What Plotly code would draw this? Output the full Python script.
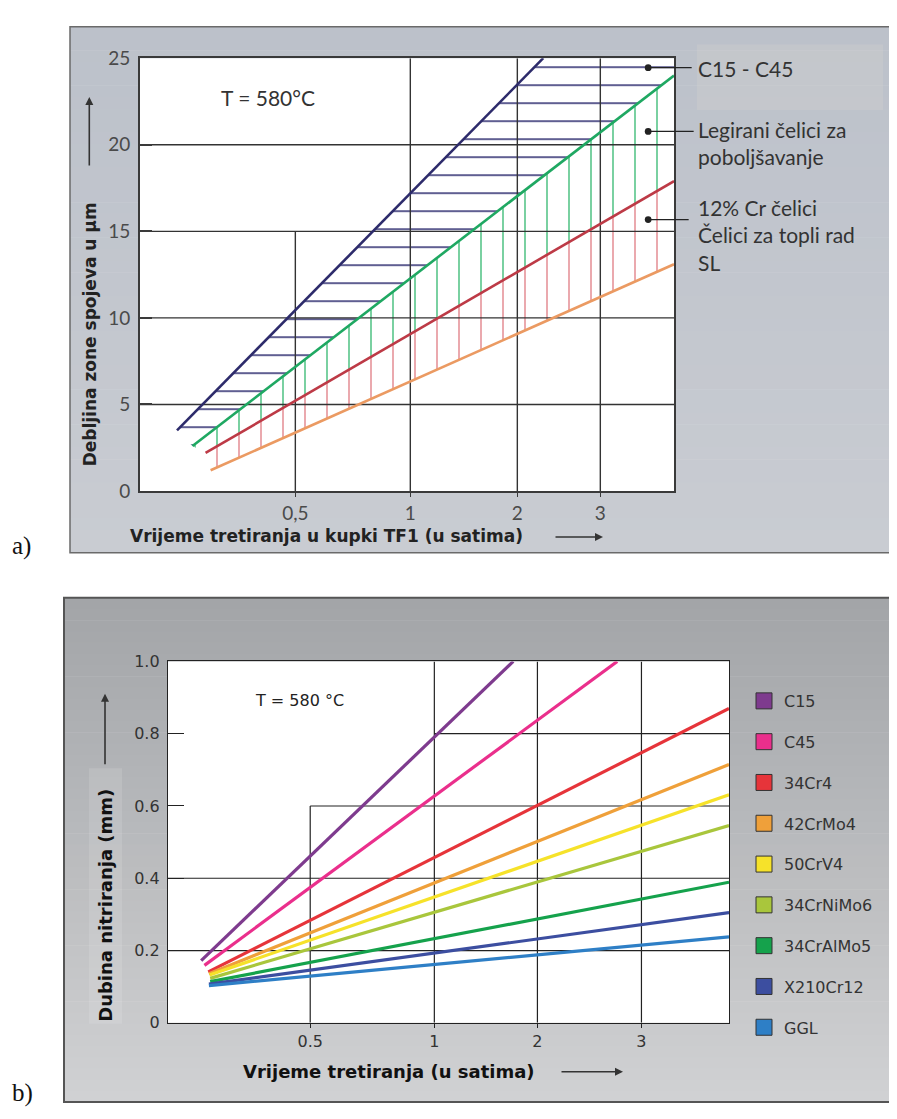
import numpy as np
import plotly.graph_objects as go

# page is 897x1119; the browser's default 8px body margin offsets the figure
PAGE_OFF = 8
W, H = 897 - PAGE_OFF, 1119 - PAGE_OFF

# ---------------- panel a) : compound-layer thickness ----------------
A_TICK_HOURS = [0.5, 1, 2, 3]
A_TICK_LABELS = ["0,5", "1", "2", "3"]
A_TICK_POS = [0.2903, 0.5056, 0.7060, 0.8614]     # non-uniform time scale of the original
A_TIME_RANGE = [0.196, 4.30]
A_DEPTH_RANGE = [0, 25]
A_DEPTH_TICKS = [0, 5, 10, 15, 20, 25]

A_BOUNDARY = ["C15 - C45 gornja", "C15 - C45 donja / legirani", "legirani donja / 12% Cr", "12% Cr donja"]
A_T_START = [0.245, 0.269, 0.291, 0.300]
A_D_START = [3.5, 2.6, 2.2, 1.2]
A_T_END = [2.27, 4.30, 4.30, 4.30]
A_D_END = [25.0, 24.0, 17.9, 13.1]
A_COLORS = ["#2d2b6b", "#1fa862", "#bd3a46", "#eb9a62"]
A_HATCH_COLORS = ["#2f2d70", "#34b870", "#dd7078"]

A_LABELS = ["C15 - C45", "Legirani čelici za<br>poboljšavanje", "12% Cr čelici<br>Čelici za topli rad<br>SL"]
A_LABEL_T = 3.79
A_LABEL_D = [24.45, 20.77, 15.68]

# ---------------- panel b) : nitriding depth ----------------
B_TICK_HOURS = [0.5, 1, 2, 3]
B_TICK_LABELS = ["0.5", "1", "2", "3"]
B_TICK_POS = [0.2531, 0.4742, 0.6578, 0.8431]
B_TIME_RANGE = [0.226, 4.22]
B_DEPTH_RANGE = [0, 1.0]
B_DEPTH_TICKS = [0, 0.2, 0.4, 0.6, 0.8, 1.0]
B_DEPTH_LABELS = ["0", "0.2", "0.4", "0.6", "0.8", "1.0"]

B_STEELS = ["C15", "C45", "34Cr4", "42CrMo4", "50CrV4", "34CrNiMo6", "34CrAlMo5", "X210Cr12", "GGL"]
B_T_START = [0.272, 0.277, 0.283, 0.284, 0.285, 0.286, 0.286, 0.284, 0.284]
B_D_START = [0.172, 0.159, 0.141, 0.136, 0.132, 0.123, 0.114, 0.107, 0.103]
B_T_END = [1.70, 2.73, 4.22, 4.22, 4.22, 4.22, 4.22, 4.22, 4.22]
B_D_END = [1.0, 1.0, 0.870, 0.715, 0.631, 0.546, 0.389, 0.305, 0.238]
B_COLORS = ["#7e3b8e", "#ea2f8c", "#e6343a", "#efa03a", "#f6e22a", "#a9c63c", "#15a24c", "#3c4ea0", "#2e7fc6"]

# grid of the original (partly drawn lines)
A_GRID_H = [5, 10, 15, 20]
A_GRID_V_TOP = [15, 25, 25, 25]
B_GRID_H = [0.2, 0.4, 0.6, 0.8]
B_GRID_H_FROM = [B_TIME_RANGE[0], B_TIME_RANGE[0], 0.5, 1]
B_GRID_V_TOP = [0.6, 1.0, 1.0, 1.0]


def to_u(t, hours, pos):
    lt = np.log10(np.atleast_1d(np.asarray(t, dtype=float)))
    lh = np.log10(np.asarray(hours, dtype=float))
    p = np.asarray(pos, dtype=float)
    u = np.interp(lt, lh, p)
    s0 = (p[1] - p[0]) / (lh[1] - lh[0])
    s1 = (p[-1] - p[-2]) / (lh[-1] - lh[-2])
    u = np.where(lt < lh[0], p[0] + (lt - lh[0]) * s0, u)
    u = np.where(lt > lh[-1], p[-1] + (lt - lh[-1]) * s1, u)
    return u


def ua(t):
    return to_u(t, A_TICK_HOURS, A_TICK_POS)


def ub(t):
    return to_u(t, B_TICK_HOURS, B_TICK_POS)


def px(x):
    return (x - PAGE_OFF) / W


def py(y):
    return 1 - (y - PAGE_OFF) / H


def segments(pairs_x, pairs_y):
    X, Y = [], []
    for (xa, xb), (ya, yb) in zip(pairs_x, pairs_y):
        X += [float(xa), float(xb), None]
        Y += [float(ya), float(yb), None]
    return X, Y


fig = go.Figure()

# ---- panel a) hatched bands ----
navy, green, red, orange = range(4)
poly_h_t = [A_T_START[navy], A_T_END[navy], A_TIME_RANGE[1], A_T_END[green], A_T_START[green]]
poly_h_d = [A_D_START[navy], A_DEPTH_RANGE[1], A_DEPTH_RANGE[1], A_D_END[green], A_D_START[green]]
poly_g_t = [A_T_START[green], A_T_END[green], A_T_END[red], A_T_START[red]]
poly_g_d = [A_D_START[green], A_D_END[green], A_D_END[red], A_D_START[red]]
poly_r_t = [A_T_START[red], A_T_END[red], A_T_END[orange], A_T_START[orange]]
poly_r_d = [A_D_START[red], A_D_END[red], A_D_END[orange], A_D_START[orange]]

for (pt, pd, shp, size, sol, col) in [
    (poly_h_t, poly_h_d, "-", 18, 0.085, A_HATCH_COLORS[0]),
    (poly_g_t, poly_g_d, "|", 22, 0.06, A_HATCH_COLORS[1]),
    (poly_r_t, poly_r_d, "|", 22, 0.055, A_HATCH_COLORS[2]),
]:
    fig.add_trace(go.Scatter(
        x=ua(pt), y=pd, mode="none", fill="toself", fillcolor="rgba(0,0,0,0)",
        fillpattern=dict(shape=shp, size=size, solidity=sol, fgcolor=col,
                         bgcolor="rgba(0,0,0,0)", fillmode="replace"),
        xaxis="x", yaxis="y", showlegend=False, hoverinfo="skip"))

# ---- panel a) grid ----
gx, gy = segments([(ua(A_TIME_RANGE[0])[0], ua(A_TIME_RANGE[1])[0])] * len(A_GRID_H),
                  [(d, d) for d in A_GRID_H])
vx, vy = segments([(ua(t)[0], ua(t)[0]) for t in A_TICK_HOURS],
                  [(0, top) for top in A_GRID_V_TOP])
fig.add_trace(go.Scatter(x=gx + vx, y=gy + vy, mode="lines",
                         line=dict(color="#333333", width=1.4),
                         xaxis="x", yaxis="y", showlegend=False, hoverinfo="skip"))

# ---- panel a) boundary lines ----
for i, name in enumerate(A_BOUNDARY):
    fig.add_trace(go.Scatter(
        x=ua([A_T_START[i], A_T_END[i]]), y=[A_D_START[i], A_D_END[i]], mode="lines",
        line=dict(color=A_COLORS[i], width=2.6), name=name,
        xaxis="x", yaxis="y", showlegend=False))

# ---- panel b) grid ----
gx, gy = segments([(ub(t0)[0], ub(B_TIME_RANGE[1])[0]) for t0 in B_GRID_H_FROM],
                  [(d, d) for d in B_GRID_H])
vx, vy = segments([(ub(t)[0], ub(t)[0]) for t in B_TICK_HOURS],
                  [(0, top) for top in B_GRID_V_TOP])
fig.add_trace(go.Scatter(x=gx + vx, y=gy + vy, mode="lines",
                         line=dict(color="#222222", width=1.2),
                         xaxis="x2", yaxis="y2", showlegend=False, hoverinfo="skip"))

# ---- panel b) lines ----
for i, name in enumerate(B_STEELS):
    fig.add_trace(go.Scatter(
        x=ub([B_T_START[i], B_T_END[i]]), y=[B_D_START[i], B_D_END[i]], mode="lines",
        line=dict(color=B_COLORS[i], width=3.2), name=name,
        xaxis="x2", yaxis="y2", showlegend=False))

# legend swatches for panel b)
for i, name in enumerate(B_STEELS):
    fig.add_trace(go.Scatter(
        x=[None], y=[None], mode="markers", name=name, legendgroup=name,
        marker=dict(symbol="square", size=18, color=B_COLORS[i],
                    line=dict(color="#333333", width=1)),
        xaxis="x2", yaxis="y2", showlegend=True))

# ---- background boxes ----
shapes = []


def mix(c1, c2, f):
    a = [int(c1[k:k + 2], 16) for k in (1, 3, 5)]
    b = [int(c2[k:k + 2], 16) for k in (1, 3, 5)]
    return "rgb(%d,%d,%d)" % tuple(round(a[j] + (b[j] - a[j]) * f) for j in range(3))


def gradient_box(x0, x1, y0, y1, ctop, cbot, n=45):
    for i in range(n):
        ya = y0 + (y1 - y0) * i / n
        yb = y0 + (y1 - y0) * (i + 1) / n + 0.6
        shapes.append(dict(type="rect", xref="paper", yref="paper", layer="below",
                           x0=px(x0), x1=px(x1), y0=py(min(yb, y1)), y1=py(ya),
                           fillcolor=mix(ctop, cbot, i / (n - 1)), line=dict(width=0)))


gradient_box(70, 899, 15, 552, "#bcc1ca", "#c9ccd2")
shapes.append(dict(type="rect", xref="paper", yref="paper", layer="below",
                   x0=px(697), x1=px(883), y0=py(100), y1=py(33),
                   fillcolor="rgba(214,212,209,0.28)", line=dict(width=0)))
shapes.append(dict(type="rect", xref="paper", yref="paper", layer="below",
                   x0=px(70), x1=px(902), y0=py(552), y1=py(15),
                   fillcolor="rgba(0,0,0,0)", line=dict(color="#6a6a6a", width=1.5)))

gradient_box(64, 899, 598, 1113, "#a3a5a8", "#d0d1d3")
shapes.append(dict(type="rect", xref="paper", yref="paper", layer="below",
                   x0=px(89), x1=px(122), y0=py(1033), y1=py(772),
                   fillcolor="rgba(255,255,255,0.12)", line=dict(width=0)))
shapes.append(dict(type="rect", xref="paper", yref="paper", layer="below",
                   x0=px(64), x1=px(902), y0=py(1113), y1=py(598),
                   fillcolor="rgba(0,0,0,0)", line=dict(color="#555555", width=2)))

A_XDOM = [px(140), px(674)]
A_YDOM = [py(489), py(47)]
B_XDOM = [px(168), px(729)]
B_YDOM = [py(1032), py(663)]
for xd, yd in [(A_XDOM, A_YDOM), (B_XDOM, B_YDOM)]:
    shapes.append(dict(type="rect", xref="paper", yref="paper", layer="below",
                       x0=xd[0], x1=xd[1], y0=yd[0], y1=yd[1],
                       fillcolor="white", line=dict(width=0)))

# ---- annotations ----
ann = []
CAL = "Lato, Open Sans, sans-serif"
TAH = "DejaVu Sans, sans-serif"
TAHB = "DejaVu Sans, sans-serif"


def text(x, y, s, size, family=CAL, color="#333333", xanchor="center", angle=0, bold=False,
         yanchor="middle", align="center"):
    ann.append(dict(xref="paper", yref="paper", x=px(x), y=py(y), text=("<b>%s</b>" % s) if bold else s,
                    showarrow=False, xanchor=xanchor, yanchor=yanchor, textangle=angle, align=align,
                    font=dict(family=family, size=size, color=color)))


def arrow(x, y, ax, ay, head=2, width=1.6, color="#333333", size=1.0, ref="paper"):
    d = dict(x=x, y=y, ax=ax, ay=ay, axref="pixel", ayref="pixel", text="",
             showarrow=True, arrowhead=head, arrowsize=size, arrowwidth=width,
             arrowcolor=color, standoff=0)
    if ref == "paper":
        d.update(xref="paper", yref="paper", x=px(x), y=py(y))
    else:
        d.update(xref="x", yref="y")
    ann.append(d)


# panel a) texts
text(267.5, 87, "T = 580°C", 21, CAL, "#333333")
text(90, 329, "Debljina zone spojeva u µm", 17, TAHB, "#222222", angle=-90, bold=True)
arrow(89.3, 86.7, 0, 70)
text(326, 535, "Vrijeme tretiranja u kupki TF1 (u satima)", 17, TAHB, "#222222", bold=True)
arrow(603, 536, -49, 0)
text(10, 545, "a)", 25, "Liberation Serif, serif", "#111111", xanchor="left")

label_y = [58, 134, 227.5]
offs = [45, 47, 42]
for i, lab in enumerate(A_LABELS):
    text(696, label_y[i], lab, 21, CAL, "#333333", xanchor="left", align="left")
    arrow(float(ua(A_LABEL_T)[0]), A_LABEL_D[i], offs[i], 0, head=6, width=1.3, size=1.3,
          color="#222222", ref="data")

# panel b) texts
text(299, 703, "T = 580 °C", 16, TAH, "#222222")
text(106, 912.5, "Dubina nitriranja (mm)", 18, TAHB, "#111111", angle=-90, bold=True)
arrow(105, 696, 0, 72)
text(389, 1082, "Vrijeme tretiranja (u satima)", 18, TAHB, "#111111", bold=True)
arrow(623, 1082, -63, 0)
text(10, 1104, "b)", 25, "Liberation Serif, serif", "#111111", xanchor="left")

axis_common = dict(showgrid=False, zeroline=False, showline=True, mirror=True, fixedrange=True)

fig.update_layout(
    width=W, height=H, autosize=False,
    margin=dict(l=0, r=0, t=0, b=0),
    paper_bgcolor="white", plot_bgcolor="rgba(0,0,0,0)",
    shapes=shapes, annotations=ann,
    showlegend=True,
    legend=dict(x=px(744), y=py(686), xanchor="left", yanchor="top",
                bgcolor="rgba(0,0,0,0)", borderwidth=0,
                font=dict(family=TAH, size=16, color="#333333"),
                traceorder="grouped", tracegroupgap=17, itemsizing="trace"),
    xaxis=dict(domain=A_XDOM, anchor="y",
               range=[float(ua(A_TIME_RANGE[0])[0]), float(ua(A_TIME_RANGE[1])[0])],
               tickmode="array", tickvals=[float(v) for v in ua(A_TICK_HOURS)], ticktext=A_TICK_LABELS,
               ticks="outside", ticklen=4, tickwidth=1.4, tickcolor="#3a3a3a",
               linecolor="#3a3a3a", linewidth=1.6,
               tickfont=dict(family=CAL, size=19, color="#4a4a4a"), **axis_common),
    yaxis=dict(domain=A_YDOM, anchor="x", range=A_DEPTH_RANGE,
               tickmode="array", tickvals=A_DEPTH_TICKS,
               ticks="inside", ticklen=12, tickwidth=1.8, tickcolor="#3a3a3a",
               linecolor="#3a3a3a", linewidth=1.6, ticklabelstandoff=4,
               tickfont=dict(family=CAL, size=19, color="#4a4a4a"), **axis_common),
    xaxis2=dict(domain=B_XDOM, anchor="y2",
                range=[float(ub(B_TIME_RANGE[0])[0]), float(ub(B_TIME_RANGE[1])[0])],
                tickmode="array", tickvals=[float(v) for v in ub(B_TICK_HOURS)], ticktext=B_TICK_LABELS,
                ticks="outside", ticklen=4, tickwidth=1.2, tickcolor="#222222",
                linecolor="#222222", linewidth=1.4,
                tickfont=dict(family=TAH, size=16, color="#333333"), **axis_common),
    yaxis2=dict(domain=B_YDOM, anchor="x2", range=B_DEPTH_RANGE,
                tickmode="array", tickvals=B_DEPTH_TICKS, ticktext=B_DEPTH_LABELS,
                ticks="inside", ticklen=16, tickwidth=1.2, tickcolor="#222222",
                linecolor="#222222", linewidth=1.4, ticklabelstandoff=4,
                tickfont=dict(family=TAH, size=16, color="#333333"), **axis_common),
)

fig.write_html("out.html")
